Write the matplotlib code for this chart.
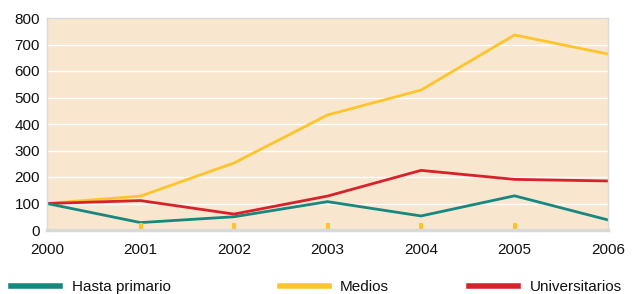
import matplotlib
matplotlib.use("Agg")
import matplotlib.pyplot as plt
from matplotlib.lines import Line2D

plt.rcParams['font.family'] = ['Liberation Sans', 'DejaVu Sans']

years = [2000, 2001, 2002, 2003, 2004, 2005, 2006]
hasta_primario = [100, 28, 50, 107, 53, 129, 38]
medios = [100, 128, 253, 434, 528, 736, 664]
universitarios = [100, 111, 60, 128, 225, 191, 185]
yticks = [0, 100, 200, 300, 400, 500, 600, 700, 800]

c_teal = '#17877f'
c_yel = '#fdc52b'
c_red = '#d7222b'
bg = '#f9e6cf'

fig = plt.figure(figsize=(6.36, 2.94), dpi=100)
ax = fig.add_axes([47/636, 1 - 230/294, 561/636, 212/294])
ax.set_facecolor(bg)
ax.set_xlim(2000, 2006)
ax.set_ylim(0, 800)
ax.set_yticks(yticks)
ax.set_xticks(years)
ax.grid(axis='y', color='white', lw=1)
ax.set_axisbelow(True)
for s in ax.spines.values():
    s.set_color('#d9d9d9')
    s.set_linewidth(1)
ax.spines['bottom'].set_linewidth(2.5)
ax.tick_params(length=0, labelsize=11, colors='#111111')
ax.tick_params(axis='y', pad=5)
ax.tick_params(axis='x', pad=9)

ax.plot(years, medios, color=c_yel, lw=2)
ax.plot(years, universitarios, color=c_red, lw=2)
ax.plot(years, hasta_primario, color=c_teal, lw=2)

# small yellow marks at the inner years
for yr in years[1:-1]:
    ax.plot([yr, yr], [0, 28], color=c_yel, lw=3, solid_capstyle='butt', clip_on=False)

# legend
items = [(11, 72, c_teal, 'Hasta primario'),
         (280, 340, c_yel, 'Medios'),
         (469, 530, c_red, 'Universitarios')]
for x0, xt, c, lab in items:
    fig.add_artist(Line2D([x0/636, (x0+49)/636], [1-286/294]*2, color=c, lw=4))
    fig.text(xt/636, 1-287/294, lab, fontsize=11, va='center', ha='left', color='#111111')

fig.savefig('out.png', dpi=100)
